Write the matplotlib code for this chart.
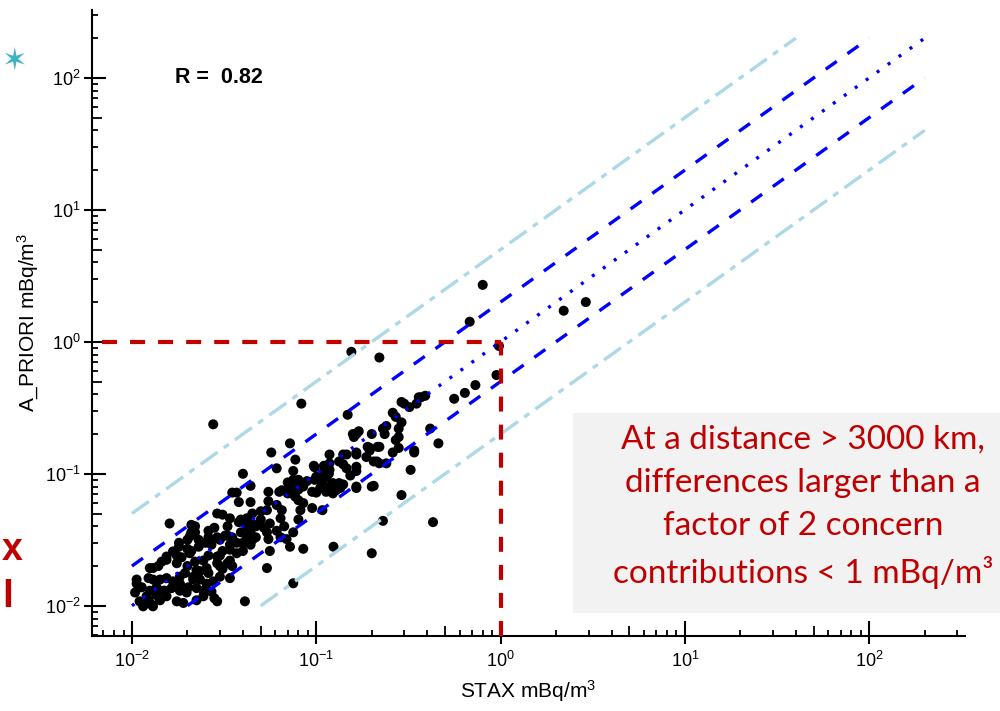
import numpy as np
import matplotlib
matplotlib.use("Agg")
import matplotlib.pyplot as plt
from matplotlib.ticker import FixedLocator, NullFormatter, LogLocator
from matplotlib.patches import Rectangle

plt.rcParams['font.family'] = ['Liberation Sans', 'DejaVu Sans']
plt.rcParams['mathtext.fontset'] = 'custom'
plt.rcParams['mathtext.rm'] = 'Liberation Sans'
plt.rcParams['mathtext.default'] = 'regular'
plt.rcParams['lines.scale_dashes'] = False

# STAX vs A_PRIORI activity concentrations (mBq/m3)
stax = [0.0104, 0.0106, 0.0106, 0.011, 0.011, 0.0113, 0.0115, 0.0118, 0.012, 0.0123,
        0.0123, 0.0125, 0.0125, 0.0128, 0.013, 0.013, 0.013, 0.0136, 0.0136, 0.0139,
        0.0142, 0.0142, 0.0145, 0.0148, 0.0151, 0.0154, 0.0154, 0.0154, 0.0154, 0.016,
        0.0164, 0.0167, 0.0167, 0.0175, 0.0175, 0.0175, 0.018, 0.018, 0.0182, 0.0182,
        0.0182, 0.0186, 0.019, 0.0194, 0.0198, 0.02, 0.02, 0.02, 0.0202, 0.0206,
        0.0206, 0.021, 0.021, 0.021, 0.0215, 0.0215, 0.022, 0.022, 0.022, 0.0224,
        0.0224, 0.0224, 0.023, 0.023, 0.0234, 0.0234, 0.0244, 0.0244, 0.0244, 0.025,
        0.0254, 0.0254, 0.026, 0.026, 0.026, 0.026, 0.026, 0.027, 0.027, 0.0276,
        0.0276, 0.028, 0.028, 0.029, 0.029, 0.029, 0.029, 0.029, 0.03, 0.03,
        0.03, 0.03, 0.031, 0.031, 0.031, 0.032, 0.033, 0.033, 0.033, 0.034,
        0.034, 0.034, 0.034, 0.034, 0.035, 0.035, 0.035, 0.037, 0.037, 0.037,
        0.038, 0.038, 0.039, 0.039, 0.04, 0.04, 0.04, 0.041, 0.042, 0.042,
        0.042, 0.043, 0.044, 0.044, 0.044, 0.044, 0.045, 0.045, 0.046, 0.047,
        0.047, 0.05, 0.05, 0.052, 0.054, 0.054, 0.054, 0.055, 0.055, 0.055,
        0.056, 0.056, 0.057, 0.061, 0.061, 0.061, 0.063, 0.064, 0.064, 0.065,
        0.065, 0.067, 0.069, 0.07, 0.07, 0.072, 0.072, 0.072, 0.072, 0.075,
        0.075, 0.075, 0.075, 0.075, 0.077, 0.077, 0.078, 0.08, 0.08, 0.08,
        0.08, 0.082, 0.083, 0.085, 0.085, 0.085, 0.089, 0.095, 0.095, 0.097,
        0.098, 0.098, 0.1, 0.1, 0.103, 0.105, 0.105, 0.108, 0.108, 0.11,
        0.11, 0.113, 0.113, 0.117, 0.118, 0.118, 0.118, 0.12, 0.123, 0.123,
        0.124, 0.128, 0.13, 0.133, 0.133, 0.135, 0.14, 0.14, 0.14, 0.146,
        0.146, 0.148, 0.153, 0.155, 0.158, 0.16, 0.165, 0.165, 0.165, 0.165,
        0.165, 0.165, 0.165, 0.17, 0.187, 0.19, 0.195, 0.195, 0.2, 0.2,
        0.2, 0.205, 0.205, 0.213, 0.215, 0.22, 0.22, 0.22, 0.23, 0.23,
        0.235, 0.24, 0.24, 0.26, 0.26, 0.27, 0.27, 0.28, 0.28, 0.28,
        0.29, 0.29, 0.29, 0.3, 0.32, 0.325, 0.34, 0.34, 0.35, 0.36,
        0.39, 0.37, 0.415, 0.43, 0.46, 0.56, 0.64, 0.68, 0.73, 0.8,
        0.95, 0.98, 2.2, 2.9]
a_priori = [0.0126, 0.0158, 0.0147, 0.0138, 0.0108, 0.0138, 0.0099, 0.0105, 0.0118, 0.011,
            0.0162, 0.0193, 0.013, 0.0102, 0.0099, 0.0158, 0.0193, 0.012, 0.0138, 0.02,
            0.0158, 0.011, 0.0216, 0.013, 0.013, 0.0162, 0.0118, 0.0236, 0.0223, 0.042,
            0.0136, 0.0153, 0.0258, 0.024, 0.0108, 0.021, 0.03, 0.028, 0.0166, 0.013,
            0.0147, 0.0233, 0.0105, 0.0177, 0.0126, 0.027, 0.02, 0.0316, 0.0138, 0.025,
            0.0336, 0.041, 0.026, 0.036, 0.0166, 0.0158, 0.0216, 0.036, 0.04, 0.011,
            0.0136, 0.0186, 0.028, 0.0316, 0.0158, 0.0183, 0.022, 0.013, 0.0118, 0.03,
            0.0147, 0.0193, 0.024, 0.0316, 0.0177, 0.037, 0.033, 0.0128, 0.029, 0.0153,
            0.237, 0.0114, 0.039, 0.0108, 0.021, 0.0236, 0.033, 0.05, 0.024, 0.02,
            0.0166, 0.0316, 0.019, 0.026, 0.049, 0.034, 0.021, 0.04, 0.034, 0.022,
            0.0266, 0.0162, 0.046, 0.029, 0.02, 0.033, 0.072, 0.025, 0.03, 0.072,
            0.043, 0.061, 0.045, 0.036, 0.026, 0.1, 0.03, 0.0108, 0.033, 0.04,
            0.046, 0.043, 0.081, 0.061, 0.036, 0.029, 0.0316, 0.05, 0.041, 0.04,
            0.033, 0.052, 0.045, 0.039, 0.0193, 0.053, 0.036, 0.062, 0.073, 0.032,
            0.042, 0.026, 0.145, 0.11, 0.058, 0.037, 0.073, 0.046, 0.033, 0.053,
            0.075, 0.04, 0.032, 0.071, 0.086, 0.17, 0.028, 0.08, 0.072, 0.105,
            0.09, 0.07, 0.036, 0.0148, 0.128, 0.067, 0.078, 0.076, 0.09, 0.063,
            0.045, 0.053, 0.34, 0.08, 0.06, 0.027, 0.088, 0.073, 0.055, 0.115,
            0.112, 0.09, 0.095, 0.072, 0.095, 0.09, 0.078, 0.085, 0.053, 0.115,
            0.105, 0.073, 0.093, 0.1, 0.12, 0.14, 0.107, 0.08, 0.085, 0.071,
            0.028, 0.075, 0.083, 0.124, 0.085, 0.078, 0.14, 0.118, 0.083, 0.11,
            0.14, 0.28, 0.097, 0.84, 0.2, 0.19, 0.2, 0.145, 0.14, 0.113,
            0.105, 0.08, 0.078, 0.21, 0.134, 0.16, 0.157, 0.15, 0.2, 0.08,
            0.025, 0.124, 0.081, 0.124, 0.16, 0.76, 0.12, 0.16, 0.22, 0.044,
            0.2, 0.23, 0.12, 0.29, 0.145, 0.27, 0.18, 0.19, 0.157, 0.22,
            0.245, 0.069, 0.35, 0.34, 0.32, 0.107, 0.15, 0.145, 0.34, 0.38,
            0.39, 0.38, 0.22, 0.043, 0.17, 0.37, 0.41, 1.42, 0.47, 2.7,
            0.56, 0.93, 1.72, 2.0]
r_value = 0.82

# reference lines y = k * x and their x extents
guide_factor = [1.0, 2.0, 0.5, 5.0, 0.2]
guide_xrange = [(0.01, 200), (0.01, 100), (0.02, 200), (0.01, 40), (0.05, 200)]
threshold = 1.0

decades = [1e-2, 1e-1, 1e0, 1e1, 1e2]
fives = [0.05, 0.5, 5, 50]
minor_subs = [2, 3, 4, 6, 7, 8, 9]

red = '#C00000'
dashed = (0, (9.7, 9.5))
dotted = (0, (2.2, 7.5))
dashdot = (0, (15, 5.5, 4.4, 5.5))
styles = [('#0000FF', dotted), ('#0000FF', dashed), ('#0000FF', dashed),
          ('#ADD8E6', dashdot), ('#ADD8E6', dashdot)]

fig = plt.figure(figsize=(10, 7.11), dpi=100)
ax = fig.add_axes([0.092, 0.1055, 0.873, 0.8805])
ax.set_xscale('log')
ax.set_yscale('log')
ax.set_xlim(6.07e-3, 331)
ax.set_ylim(5.9e-3, 327)

ax.scatter(stax, a_priori, s=52, c='black', edgecolors='none', zorder=2)

for k, (x0, x1), (col, ls) in zip(guide_factor, guide_xrange, styles):
    xs = np.array([x0, x1])
    ax.plot(xs, k * xs, color=col, linestyle=ls, linewidth=2.4, zorder=3)

ax.plot([6.9e-3, threshold], [threshold, threshold], color=red, linestyle=(0, (10.8, 9.4)),
        linewidth=3, zorder=4)
ax.plot([threshold, threshold], [5.9e-3, threshold], color=red, linestyle=(0, (10.8, 9.4)),
        linewidth=3, zorder=4)

ax.text(0.0172, 100, f'R =  {r_value:.2f}', fontsize=15.5, fontweight='bold', va='center')

for side in ['top', 'right']:
    ax.spines[side].set_visible(False)
for side in ['left', 'bottom']:
    ax.spines[side].set_linewidth(1.5)

ax.xaxis.set_major_locator(FixedLocator(decades))
ax.yaxis.set_major_locator(FixedLocator(decades))
ax.xaxis.set_minor_locator(LogLocator(base=10, subs=minor_subs))
ax.yaxis.set_minor_locator(LogLocator(base=10, subs=minor_subs))
ax.xaxis.set_minor_formatter(NullFormatter())
ax.yaxis.set_minor_formatter(NullFormatter())
ax.tick_params(axis='x', which='major', direction='in', length=11, width=1.5, pad=11, labelsize=13)
ax.tick_params(axis='y', which='major', direction='in', length=10, width=1.5, pad=8, labelsize=13)
ax.tick_params(which='minor', direction='in', length=4, width=1.3)

# outward stubs at the decades and longer ticks at the fives
secx = ax.secondary_xaxis(0)
secy = ax.secondary_yaxis(0)
for sec, a in ((secx, secx.xaxis), (secy, secy.yaxis)):
    a.set_major_locator(FixedLocator(fives))
    a.set_major_formatter(NullFormatter())
    a.set_minor_locator(FixedLocator(decades))
    a.set_minor_formatter(NullFormatter())
    sec.tick_params(which='major', direction='in', length=7, width=1.3)
    sec.tick_params(which='minor', direction='out', length=6, width=1.5)
    for sp in sec.spines.values():
        sp.set_visible(False)

ax.set_xlabel('STAX mBq/m$^3$', fontsize=15, labelpad=5)
ax.set_ylabel('A_PRIORI mBq/m$^3$', fontsize=15, labelpad=3)

# annotation panel
fig.patches.append(Rectangle((0.573, 0.138), 0.43, 0.281, transform=fig.transFigure,
                             facecolor='#F2F2F2', edgecolor='none', zorder=5))
fig.text(0.803, 0.287, 'At a distance > 3000 km,\ndifferences larger than a\n'
         'factor of 2 concern\ncontributions < 1 mBq/m³',
         family=['Lato', 'DejaVu Sans'], fontsize=24, color=red, ha='center', va='center',
         linespacing=1.55, zorder=6)

# slide fragments at the left edge
fig.text(0.002, 0.226, 'x', fontsize=27, fontweight='bold', color=red, va='center')
fig.text(0.002, 0.16, 'l', fontsize=28, fontweight='bold', color=red, va='center')
fig.text(0.001, 0.913, '✶', fontsize=22, color='#3FB2C6', va='center')

fig.savefig('out.png', dpi=100)
